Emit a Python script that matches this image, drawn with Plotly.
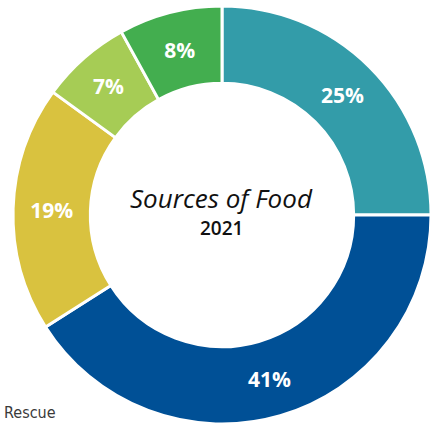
import plotly.graph_objects as go

categories = ["Source A", "Source B", "Source C", "Source D", "Source E"]
values = [25, 41, 19, 7, 8]
colors = ["#339CA9", "#005096", "#D9C23F", "#A6CC55", "#43AE4F"]

W, H = 432, 427
cx, cy, r = 222, 215, 209

fig = go.Figure(go.Pie(
    labels=categories,
    values=values,
    hole=0.63,
    sort=False,
    direction="clockwise",
    rotation=0,
    marker=dict(colors=colors, line=dict(color="white", width=3)),
    texttemplate="%{value}%",
    textposition="inside",
    insidetextorientation="horizontal",
    textfont=dict(family="Open Sans", size=21, color="white", weight="bold"),
    hoverinfo="label+percent",
    domain=dict(x=[(cx - r) / W, (cx + r) / W], y=[(H - cy - r) / H, (H - cy + r) / H]),
    showlegend=False,
))

fig.add_annotation(x=cx / W, y=(H - 198) / H, xref="paper", yref="paper",
                   yanchor="middle", text="<i>Sources of Food</i>", showarrow=False,
                   font=dict(family="Open Sans", size=26, color="#111111"))
fig.add_annotation(x=cx / W, y=(H - 228) / H, xref="paper", yref="paper",
                   yanchor="middle", text="2021", showarrow=False,
                   font=dict(family="Open Sans", size=19, color="#111111", weight=600))
fig.add_annotation(x=2 / W, y=(H - 412) / H, xref="paper", yref="paper",
                   xanchor="left", yanchor="middle", text="Rescue", showarrow=False,
                   font=dict(family="DejaVu Sans Condensed, sans-serif",
                             size=16, color="#3a3a3a"))

fig.update_layout(width=W, height=H, margin=dict(l=0, r=0, t=0, b=0),
                  paper_bgcolor="white", plot_bgcolor="white")

fig.write_html("out.html", config={"displayModeBar": False},
               post_script="document.body.style.margin='0';")
